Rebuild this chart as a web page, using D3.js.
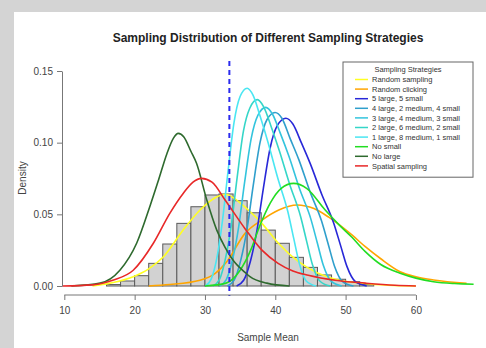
<!DOCTYPE html>
<html lang="en">
<head>
<meta charset="UTF-8">
<title>Sampling Distribution of Different Sampling Strategies</title>
<script src="https://d3js.org/d3.v7.min.js"></script>
<style>
  body { margin: 0; background: #d4d4d4; }
  svg { display: block; font-family: "Liberation Sans", Arial, sans-serif; }
  .axis text { font-size: 10px; fill: #444; }
  .axis line { stroke: #777; }
</style>
</head>
<body>
<div id="chart"></div>
<script>
// ---- data ----
const xTicks = [10, 20, 30, 40, 50, 60];
const yTicks = [0, 0.05, 0.10, 0.15];

// histogram of "Random sampling", bins of width 2 starting at 16
const binStart = 16;
const binWidth = 2;
const binDensity = [0.001, 0.0035, 0.0072, 0.0158, 0.0293, 0.0437, 0.0553, 0.0635, 0.0642,
                    0.0595, 0.0511, 0.039, 0.0298, 0.020, 0.013, 0.0077, 0.0047, 0.003, 0.001];

const randomSampling = [[14, 0], [16.5, 0.002], [19.8, 0.0065], [22, 0.012], [24.1, 0.0204], [26.9, 0.039],
  [29.3, 0.053], [31.7, 0.0623], [32.9, 0.064], [34.2, 0.061], [35.7, 0.055], [38.1, 0.0437], [40.4, 0.030],
  [43.3, 0.017], [46.1, 0.0089], [49, 0.0042], [52.3, 0.0019], [56, 0.0005], [60, 0]];

const randomClicking = [[22, 0], [25, 0.001], [29.3, 0.004], [31.5, 0.009], [33.1, 0.017], [35.7, 0.0367],
  [38.1, 0.046], [40.5, 0.053], [43.1, 0.0565], [45.5, 0.054], [47.6, 0.048], [50.9, 0.0356], [52.8, 0.0274],
  [55, 0.019], [57.75, 0.010], [60, 0.0065], [62.5, 0.0042], [67.2, 0.0019]];

const large5 = [[34.5, 0], [35.5, 0.004], [36.5, 0.018], [37.4, 0.039], [38.3, 0.068], [39.3, 0.097],
  [40.3, 0.112], [41.5, 0.117], [42.5, 0.113], [43.7, 0.1], [45, 0.085], [46.6, 0.064], [48.3, 0.044],
  [49.3, 0.028], [50.2, 0.0135], [51.4, 0.003], [53, 0]];

const large4 = [[33.18, 0], [34.15, 0.0041], [35.12, 0.0186], [35.99, 0.040], [36.86, 0.070], [37.83, 0.100],
  [38.81, 0.116], [39.97, 0.121], [40.94, 0.117], [42.1, 0.103], [43.36, 0.088], [44.92, 0.066], [46.57, 0.0455],
  [47.54, 0.029], [48.41, 0.014], [49.57, 0.0031], [51.12, 0]];

const large3 = [[32.07, 0], [33.01, 0.0043], [33.95, 0.019], [34.8, 0.0415], [35.64, 0.0724], [36.58, 0.103],
  [37.52, 0.119], [38.65, 0.1246], [39.59, 0.120], [40.72, 0.1065], [41.94, 0.0905], [43.44, 0.068], [45.04, 0.047],
  [45.98, 0.030], [46.83, 0.0144], [47.96, 0.0032], [49.46, 0]];

const large2 = [[31.15, 0], [32.05, 0.0044], [32.95, 0.020], [33.76, 0.043], [34.57, 0.0755], [35.47, 0.108],
  [36.37, 0.124], [37.45, 0.130], [38.35, 0.125], [39.43, 0.111], [40.6, 0.094], [42.04, 0.071], [43.57, 0.049],
  [44.47, 0.031], [45.28, 0.015], [46.36, 0.0033], [47.8, 0]];

const large1 = [[30.05, 0], [30.9, 0.005], [31.75, 0.021], [32.5, 0.046], [33.28, 0.080], [34.13, 0.114],
  [34.98, 0.132], [36.0, 0.138], [36.85, 0.133], [37.87, 0.118], [38.98, 0.100], [40.34, 0.0755], [41.78, 0.052],
  [42.63, 0.033], [43.4, 0.016], [44.4, 0.0035], [45.8, 0]];

const noSmall = [[30, 0], [33.0, 0.002], [35.0, 0.011], [36.5, 0.025], [37.8, 0.042], [39.3, 0.058],
  [40.8, 0.068], [42.6, 0.0716], [44.5, 0.068], [47.1, 0.053], [49, 0.043], [50.9, 0.034], [52.8, 0.024],
  [55, 0.015], [57.75, 0.0089], [60, 0.0055], [62.5, 0.003], [65.5, 0.0017], [68.2, 0.0012]];

const noLarge = [[11, 0], [15.1, 0.002], [17.9, 0.011], [20.3, 0.030], [22.2, 0.056], [23.4, 0.074],
  [24.6, 0.0925], [25.5, 0.103], [26.2, 0.1065], [27, 0.104], [28, 0.094], [28.8, 0.0856], [30.26, 0.060],
  [31.68, 0.039], [32.86, 0.027], [34.0, 0.018], [35.7, 0.0095], [36.4, 0.0065], [38.8, 0.002], [42, 0]];

const spatial = [[9.7, 0], [14, 0.0008], [17, 0.0042], [19.8, 0.011], [22.66, 0.0298], [25.0, 0.0507],
  [26.9, 0.0646], [28.3, 0.0725], [29.5, 0.0751], [31, 0.0725], [32.86, 0.060], [35.7, 0.040], [38.1, 0.025],
  [40.4, 0.0158], [42.5, 0.0105], [44.7, 0.0075], [48.5, 0.004], [52.8, 0.002], [57, 0.0005], [60, 0]];

const meanLine = 33.47;

const legendLabels = ["Random sampling", "Random clicking", "5 large, 5 small", "4 large, 2 medium, 4 small",
  "3 large, 4 medium, 3 small", "2 large, 6 medium, 2 small", "1 large, 8 medium, 1 small",
  "No small", "No large", "Spatial sampling"];
const legendColors = ["#ffff22", "#ffa500", "#2828d8", "#2f9fcc", "#33c4dd", "#35d6c8", "#4ae6f2",
  "#22dd22", "#2e6a2e", "#e82828"];
const seriesData = [randomSampling, randomClicking, large5, large4, large3, large2, large1,
  noSmall, noLarge, spatial];

// ---- drawing ----
const width = 486, height = 348;
const svg = d3.select("#chart").append("svg")
  .attr("width", width).attr("height", height);

svg.append("rect").attr("width", width).attr("height", height).attr("fill", "#d4d4d4");
svg.append("rect").attr("x", 14).attr("y", 12).attr("width", width - 14).attr("height", height - 12)
  .attr("fill", "#fff");

const x = d3.scaleLinear().domain([9.67, 68.4]).range([62, 475]);
const y = d3.scaleLinear().domain([0, 0.15]).range([286, 71]);

// histogram
const bins = binDensity.map((d, i) => ({ x0: binStart + i * binWidth, x1: binStart + (i + 1) * binWidth, d }));
svg.append("g")
  .selectAll("rect")
  .data(bins)
  .join("rect")
  .attr("x", b => x(b.x0))
  .attr("width", b => x(b.x1) - x(b.x0))
  .attr("y", b => y(b.d))
  .attr("height", b => y(0) - y(b.d))
  .attr("fill", "#d2d2d2")
  .attr("stroke", "#5a5a5a")
  .attr("stroke-width", 1);

// density curves
const line = d3.line()
  .x(d => x(d[0]))
  .y(d => y(d[1]))
  .curve(d3.curveMonotoneX);

svg.append("g")
  .attr("fill", "none")
  .attr("stroke-width", 1.6)
  .selectAll("path")
  .data(seriesData)
  .join("path")
  .attr("d", line)
  .attr("stroke", (d, i) => legendColors[i]);

// mean line
svg.append("line")
  .attr("x1", x(meanLine)).attr("x2", x(meanLine))
  .attr("y1", 61).attr("y2", 296)
  .attr("stroke", "#2b2bee")
  .attr("stroke-width", 2)
  .attr("stroke-dasharray", "5,4");

// axes
const yAxis = svg.append("g")
  .attr("class", "axis")
  .attr("transform", "translate(62,0)")
  .call(d3.axisLeft(y).tickValues(yTicks).tickFormat(d3.format(".2f")).tickSize(5).tickSizeOuter(0).tickPadding(4));
yAxis.select(".domain").attr("stroke", "#777");

const xAxis = svg.append("g")
  .attr("class", "axis")
  .attr("transform", "translate(0,295)")
  .call(d3.axisBottom(x).tickValues(xTicks).tickSize(5).tickPadding(7));
xAxis.select(".domain").remove();
xAxis.append("line")
  .attr("x1", x(10)).attr("x2", x(60))
  .attr("stroke", "#777");

// titles
svg.append("text")
  .attr("x", 268).attr("y", 42)
  .attr("text-anchor", "middle")
  .attr("font-size", 12)
  .attr("font-weight", "bold")
  .attr("fill", "#222")
  .text("Sampling Distribution of Different Sampling Strategies");

svg.append("text")
  .attr("x", 268).attr("y", 341)
  .attr("text-anchor", "middle")
  .attr("font-size", 10)
  .attr("fill", "#444")
  .text("Sample Mean");

svg.append("text")
  .attr("transform", "translate(26,178) rotate(-90)")
  .attr("text-anchor", "middle")
  .attr("font-size", 10)
  .attr("fill", "#444")
  .text("Density");

// legend
const lg = svg.append("g");
const legTop = 62, legLeft = 343, legRight = 473, legStep = 9.6;
lg.append("rect")
  .attr("x", legLeft).attr("y", legTop)
  .attr("width", legRight - legLeft)
  .attr("height", legStep * 12)
  .attr("fill", "#fff")
  .attr("stroke", "#666");
lg.append("text")
  .attr("x", (legLeft + legRight) / 2).attr("y", legTop + 10)
  .attr("text-anchor", "middle")
  .attr("font-size", 7.5)
  .attr("fill", "#333")
  .text("Sampling Strategies");
const items = lg.selectAll("g.item")
  .data(legendLabels)
  .join("g")
  .attr("class", "item")
  .attr("transform", (d, i) => `translate(0,${legTop + 17.5 + i * legStep})`);
items.append("line")
  .attr("x1", 355).attr("x2", 368)
  .attr("stroke", (d, i) => legendColors[i])
  .attr("stroke-width", 1.5);
items.append("text")
  .attr("x", 372).attr("dy", "0.35em")
  .attr("font-size", 7.5)
  .attr("fill", "#333")
  .text(d => d);
</script>
</body>
</html>
